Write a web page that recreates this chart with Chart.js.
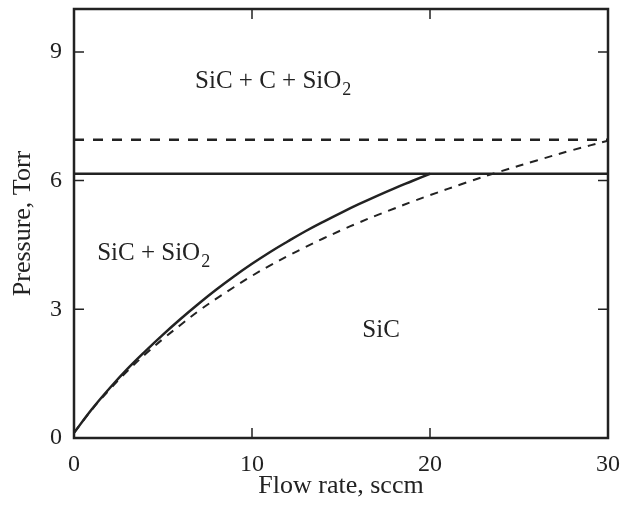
<!DOCTYPE html>
<html>
<head>
<meta charset="utf-8">
<script src="https://cdn.jsdelivr.net/npm/chart.js@4.4.0/dist/chart.umd.min.js"></script>
<style>
  html, body { margin: 0; padding: 0; background: #fff; }
  #wrap { width: 635px; height: 507px; }
</style>
</head>
<body>
<div id="wrap"><canvas id="chart" width="635" height="507"></canvas></div>
<script>
// flow rate (sccm) / pressure (Torr)
const solidX = [0, 1, 2, 3, 4, 5, 6, 7, 8, 9, 10, 11, 12, 13, 14, 15, 16, 17, 18, 19, 20];
const solidY = [0.12, 0.67, 1.16, 1.61, 2.02, 2.41, 2.78, 3.13, 3.46, 3.77, 4.06, 4.33, 4.58, 4.82, 5.04, 5.25, 5.45, 5.64, 5.82, 5.99, 6.16];
const dashX = [0, 1, 2, 3, 4, 5, 6, 7, 8, 9, 10, 11, 12, 13, 14, 15, 16, 17, 18, 19, 20, 22, 24, 26, 28, 30];
const dashY = [0.12, 0.66, 1.13, 1.56, 1.95, 2.31, 2.64, 2.96, 3.25, 3.52, 3.78, 4.02, 4.24, 4.45, 4.65, 4.84, 5.02, 5.19, 5.35, 5.51, 5.66, 5.95, 6.22, 6.47, 6.71, 6.93];
const solidLevel = 6.16;
const dashLevel = 6.95;
const xTicks = [0, 10, 20, 30];
const yTicks = [0, 3, 6, 9];
// region labels: [text, subscript, x, y]
const regionLabels = [
  ['SiC + C + SiO', '2', 6.8, 8.16],
  ['SiC + SiO', '2', 1.3, 4.14],
  ['SiC', '', 16.2, 2.35]
];

const FONT = '"Liberation Serif", "Times New Roman", serif';
const INK = '#222';

function pts(xs, ys) {
  return xs.map((x, i) => ({ x: x, y: ys[i] }));
}

function noPad(s) {
  s.paddingTop = 0; s.paddingBottom = 0; s.paddingLeft = 0; s.paddingRight = 0;
}

const frame = {
  id: 'frame',
  afterDraw(chart) {
    const ctx = chart.ctx;
    const a = chart.chartArea;
    const sx = chart.scales.x, sy = chart.scales.y;
    ctx.save();
    ctx.strokeStyle = INK;
    ctx.lineWidth = 2.5;
    ctx.strokeRect(a.left, a.top, a.right - a.left, a.bottom - a.top);
    ctx.lineWidth = 1.5;
    ctx.beginPath();
    xTicks.forEach(v => {
      const px = sx.getPixelForValue(v);
      ctx.moveTo(px, a.bottom); ctx.lineTo(px, a.bottom - 10);
      ctx.moveTo(px, a.top); ctx.lineTo(px, a.top + 10);
    });
    yTicks.forEach(v => {
      const py = sy.getPixelForValue(v);
      ctx.moveTo(a.left, py); ctx.lineTo(a.left + 10, py);
      ctx.moveTo(a.right, py); ctx.lineTo(a.right - 10, py);
    });
    ctx.stroke();

    ctx.fillStyle = INK;
    ctx.textBaseline = 'alphabetic';
    ctx.textAlign = 'left';
    regionLabels.forEach(([txt, sub, x, y]) => {
      const px = sx.getPixelForValue(x);
      const py = sy.getPixelForValue(y);
      ctx.font = '25px ' + FONT;
      ctx.fillText(txt, px, py);
      if (sub) {
        const w = ctx.measureText(txt).width;
        ctx.font = '18px ' + FONT;
        ctx.fillText(sub, px + w + 1, py + 7);
      }
    });
    ctx.restore();
  }
};

new Chart(document.getElementById('chart'), {
  type: 'line',
  data: {
    datasets: [
      { data: pts(solidX, solidY), borderColor: INK, borderWidth: 2.5, tension: 0.4 },
      { data: pts(dashX, dashY), borderColor: INK, borderWidth: 2, borderDash: [8, 7], tension: 0.4 },
      { data: pts([0, 30], [solidLevel, solidLevel]), borderColor: INK, borderWidth: 2.5 },
      { data: pts([0, 30], [dashLevel, dashLevel]), borderColor: INK, borderWidth: 2.5, borderDash: [10, 9] }
    ]
  },
  options: {
    responsive: false,
    animation: false,
    elements: { point: { radius: 0 } },
    layout: { padding: { top: 9, right: 27, left: 0, bottom: 0 } },
    plugins: { legend: { display: false }, tooltip: { enabled: false } },
    scales: {
      x: {
        type: 'linear', min: 0, max: 30,
        afterFit(s) { s.height = 69; noPad(s); },
        afterBuildTicks(s) { s.ticks = xTicks.map(v => ({ value: v })); },
        grid: { display: false, drawTicks: false },
        border: { display: false },
        ticks: { color: INK, padding: 12, maxRotation: 0, font: { family: FONT, size: 24 } },
        title: { display: true, text: 'Flow rate, sccm', color: INK, padding: { top: 0, bottom: 5 }, font: { family: FONT, size: 26 } }
      },
      y: {
        type: 'linear', min: 0, max: 10,
        afterFit(s) { s.width = 74; noPad(s); },
        afterBuildTicks(s) { s.ticks = yTicks.map(v => ({ value: v })); },
        grid: { display: false, drawTicks: false },
        border: { display: false },
        ticks: { color: INK, padding: 12, font: { family: FONT, size: 24 } },
        title: { display: true, text: 'Pressure, Torr', color: INK, padding: { top: 8, bottom: 0 }, font: { family: FONT, size: 26 } }
      }
    }
  },
  plugins: [frame]
});
</script>
</body>
</html>
